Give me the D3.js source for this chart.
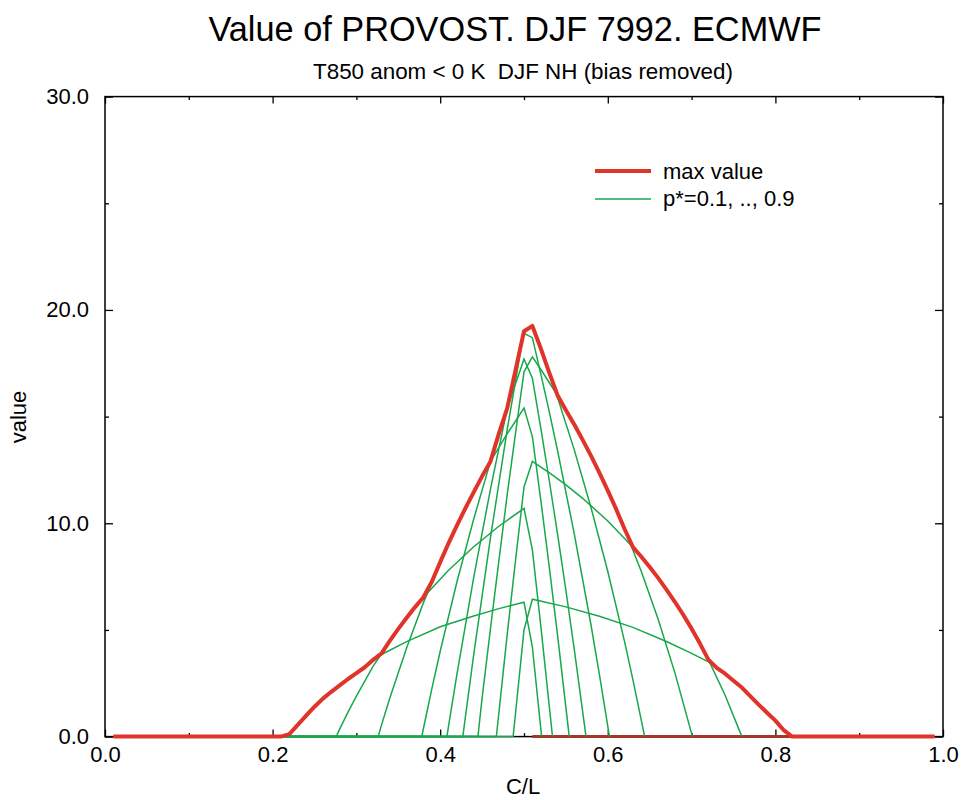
<!DOCTYPE html>
<meta charset="utf-8">
<style>
body { margin: 0; background: #fff; }
text { font-family: "Liberation Sans", Arial, sans-serif; fill: #000; }
.frame { fill: none; stroke: #000; stroke-width: 1.5; }
.tick line { stroke: #000; stroke-width: 1.3; }
.pcurve { fill: none; stroke: #17a84b; stroke-width: 1.5; }
.zerobase { fill: none; stroke: #a8342a; stroke-width: 3; }
.maxcurve { fill: none; stroke: #e0332a; stroke-width: 4; stroke-linejoin: round; }
</style>
<body>
<script src="https://d3js.org/d3.v7.min.js"></script>
<script>

var width = 962,
    height = 800;

// tick values
var xMajor = [0, 0.2, 0.4, 0.6, 0.8, 1.0],
    xMinor = [0.1, 0.3, 0.5, 0.7, 0.9],
    yMajor = [0, 10, 20, 30],
    yMinor = [5, 15, 25];

// max value envelope, [C/L, value]
var maxValue = [[0.01,0],[0.21,0],[0.22,0.12],[0.23,0.55],[0.24,0.98],[0.25,1.4],[0.26,1.78],[0.27,2.1],
  [0.28,2.4],[0.29,2.7],[0.30,2.98],[0.31,3.25],[0.32,3.6],[0.33,3.9],[0.34,4.5],[0.35,5.05],[0.36,5.57],
  [0.37,6.07],[0.38,6.53],[0.39,7.26],[0.40,8.18],[0.41,9.07],[0.42,9.9],[0.43,10.7],[0.44,11.46],[0.45,12.2],
  [0.46,12.9],[0.47,14.2],[0.48,15.4],[0.49,17.2],[0.50,19.0],[0.51,19.25],[0.52,18.2],[0.53,17.07],[0.54,16.0],
  [0.55,15.3],[0.56,14.63],[0.57,13.91],[0.58,13.16],[0.59,12.36],[0.60,11.53],[0.61,10.66],[0.62,9.73],
  [0.63,8.88],[0.64,8.43],[0.65,7.95],[0.66,7.44],[0.67,6.89],[0.68,6.32],[0.69,5.71],[0.70,5.06],[0.71,4.36],
  [0.72,3.61],[0.73,3.22],[0.74,2.95],[0.75,2.62],[0.76,2.3],[0.77,1.9],[0.78,1.5],[0.79,1.12],[0.80,0.75],
  [0.81,0.3],[0.82,0],[0.99,0]];

// value curves for p* = 0.1 .. 0.9
var p01 = [[0.2175,0],[0.22,0.12],[0.23,0.55],[0.24,0.98],[0.25,1.4],[0.27,2.1],[0.30,2.98],[0.33,3.85],
  [0.36,4.45],[0.40,5.15],[0.44,5.65],[0.47,6.0],[0.50,6.3],[0.51,4.2],[0.521,0]];
var p02 = [[0.276,0],[0.28,0.35],[0.29,1.15],[0.30,1.9],[0.32,3.3],[0.35,5.05],[0.38,6.53],[0.41,7.8],
  [0.44,8.9],[0.47,9.86],[0.50,10.7],[0.51,8.75],[0.52,5.2],[0.534,0]];
var p03 = [[0.326,0],[0.33,0.55],[0.34,1.82],[0.36,4.17],[0.38,6.28],[0.40,8.18],[0.42,9.9],[0.44,11.46],
  [0.46,12.9],[0.48,14.2],[0.50,15.4],[0.51,14.06],[0.52,11.1],[0.53,8.0],[0.54,4.77],[0.554,0]];
var p04 = [[0.378,0],[0.38,0.38],[0.39,2.24],[0.40,4.0],[0.42,7.26],[0.44,10.2],[0.46,12.9],[0.48,15.4],
  [0.50,17.7],[0.51,16.8],[0.52,14.47],[0.53,12.04],[0.54,9.5],[0.55,6.86],[0.56,4.09],[0.574,0]];
var p05 = [[0.408,0],[0.41,0.5],[0.42,2.93],[0.44,7.46],[0.46,11.6],[0.48,15.4],[0.49,17.2],[0.50,18.9],
  [0.51,18.7],[0.52,17.0],[0.53,15.26],[0.54,13.42],[0.56,9.5],[0.58,5.22],[0.59,2.9],[0.602,0]];
var p06 = [[0.427,0],[0.43,0.9],[0.44,3.84],[0.46,9.33],[0.48,14.4],[0.49,16.7],[0.50,19.0],[0.51,19.25],
  [0.52,18.19],[0.54,15.9],[0.56,13.44],[0.58,10.73],[0.60,7.74],[0.62,4.45],[0.63,2.66],[0.644,0]];
var p07 = [[0.445,0],[0.45,1.8],[0.46,5.06],[0.47,8.24],[0.48,11.35],[0.49,14.26],[0.50,17.1],[0.51,17.8],
  [0.52,17.22],[0.54,15.98],[0.56,14.63],[0.58,13.16],[0.60,11.53],[0.62,9.73],[0.64,7.74],[0.66,5.51],
  [0.68,3.0],[0.701,0]];
var p08 = [[0.467,0],[0.47,1.1],[0.48,4.8],[0.49,8.3],[0.50,11.7],[0.51,12.9],[0.53,12.37],[0.55,11.8],
  [0.57,11.17],[0.60,10.11],[0.63,8.88],[0.66,7.44],[0.69,5.71],[0.72,3.61],[0.74,1.94],[0.760,0]];
var p09 = [[0.487,0],[0.49,1.13],[0.50,5.0],[0.51,6.44],[0.55,6.08],[0.59,5.64],[0.63,5.12],[0.67,4.46],
  [0.70,3.9],[0.72,3.5],[0.74,2.95],[0.76,2.3],[0.78,1.5],[0.80,0.75],[0.81,0.3],[0.82,0]];
var pCurves = [p01, p02, p03, p04, p05, p06, p07, p08, p09];

// stretches of C/L where the p* curves lie on zero
var leftZero = [0.21, 0.50],
    rightZero = [0.51, 0.82];

var x = d3.scaleLinear().domain([0, 1]).range([105, 943]);
var y = d3.scaleLinear().domain([0, 30]).range([736.6, 96.6]);

var svg = d3.select("body").append("svg")
    .attr("width", width)
    .attr("height", height);

svg.append("text")
    .attr("x", 515).attr("y", 41)
    .attr("text-anchor", "middle")
    .style("font-size", "34.3px")
    .text("Value of PROVOST. DJF 7992. ECMWF");

svg.append("text")
    .attr("x", 523).attr("y", 79)
    .attr("text-anchor", "middle")
    .style("font-size", "22.4px")
    .style("white-space", "pre")
    .text("T850 anom < 0 K  DJF NH (bias removed)");

// axes, ticks pointing inward
function addAxis(axis, tx, ty, vals, size, labels) {
  var a = axis.tickValues(vals).tickSize(-size);
  if (labels) { a.tickFormat(d3.format(".1f")); } else { a.tickFormat(""); }
  var g = svg.append("g")
      .attr("transform", "translate(" + tx + "," + ty + ")")
      .call(a);
  g.select(".domain").remove();
  g.selectAll("text").style("font-size", "22px").style("font-family", null);
  return g;
}

addAxis(d3.axisBottom(x).tickPadding(10), 0, y(0), xMajor, 7, true);
addAxis(d3.axisBottom(x), 0, y(0), xMinor, 3.5, false);
addAxis(d3.axisTop(x), 0, y(30), xMajor, 7, false);
addAxis(d3.axisTop(x), 0, y(30), xMinor, 3.5, false);
addAxis(d3.axisLeft(y).tickPadding(16), x(0), 0, yMajor, 8, true);
addAxis(d3.axisLeft(y), x(0), 0, yMinor, 4, false);
addAxis(d3.axisRight(y), x(1), 0, yMajor, 8, false);
addAxis(d3.axisRight(y), x(1), 0, yMinor, 4, false);

svg.append("rect")
    .attr("class", "frame")
    .attr("x", x(0)).attr("y", y(30))
    .attr("width", x(1) - x(0))
    .attr("height", y(0) - y(30));

svg.append("text")
    .attr("x", 523).attr("y", 794)
    .attr("text-anchor", "middle")
    .style("font-size", "22px")
    .text("C/L");

svg.append("text")
    .attr("transform", "translate(26,417) rotate(-90)")
    .attr("text-anchor", "middle")
    .style("font-size", "22px")
    .text("value");

var line = d3.line()
    .x(function(d) { return x(d[0]); })
    .y(function(d) { return y(d[1]); });

svg.append("path")
    .attr("class", "zerobase")
    .attr("d", line(rightZero.map(function(c) { return [c, 0]; })));

svg.selectAll("path.pcurve")
    .data(pCurves)
  .enter().append("path")
    .attr("class", "pcurve")
    .attr("d", function(d) { return line([[leftZero[0], 0]].concat(d)); });

svg.append("path")
    .attr("class", "maxcurve")
    .attr("d", line(maxValue));

// legend
var legend = svg.append("g").attr("transform", "translate(595,0)");
legend.append("line")
    .attr("x1", 0).attr("x2", 56).attr("y1", 171).attr("y2", 171)
    .attr("stroke", "#e0332a").attr("stroke-width", 4);
legend.append("text")
    .attr("x", 68).attr("y", 178.5)
    .style("font-size", "22px")
    .text("max value");
legend.append("line")
    .attr("x1", 0).attr("x2", 56).attr("y1", 199).attr("y2", 199)
    .attr("stroke", "#17a84b").attr("stroke-width", 1.5);
legend.append("text")
    .attr("x", 68).attr("y", 206)
    .style("font-size", "22px")
    .text("p*=0.1, .., 0.9");

</script>
